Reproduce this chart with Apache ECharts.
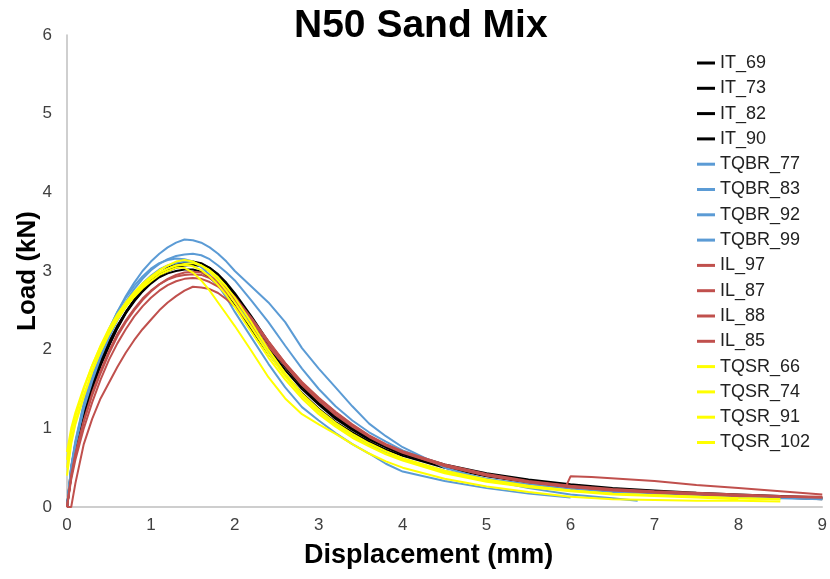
<!DOCTYPE html>
<html><head><meta charset="utf-8">
<script src="https://cdn.jsdelivr.net/npm/echarts@6/dist/echarts.min.js"></script>
<style>html,body{margin:0;background:#fff}#c{width:830px;height:579px}</style>
</head><body><div id="c"></div>
<script>
// shared displacement grid (mm)
const xGrid = [0,0.05,0.1,0.2,0.3,0.4,0.5,0.6,0.7,0.8,0.9,1.0,1.1,1.2,1.3,1.4,1.5,1.6,1.7,1.8,1.9,2.0,2.2,2.4,2.6,2.8,3.0,3.2,3.4,3.6,3.8,4.0,4.5,5.0,5.5,6.0,6.5,7.0,7.5,8.0,8.5,9.0];
const xBlue = [0,0.05,0.1,0.2,0.3,0.4,0.5,0.6,0.7,0.8,0.9,1.0,1.1,1.2,1.3,1.4,1.5,1.6,1.7,1.8,1.9,2.0,2.2,2.4,2.6,2.8,3.0,3.2,3.4,3.6,3.8,4.0,4.5,5.0,5.5,6.0,6.5,6.8,7.5,8.0,8.5,9.0];
const xIL97 = [0,0.05,0.1,0.2,0.3,0.4,0.5,0.6,0.7,0.8,0.9,1.0,1.1,1.2,1.3,1.4,1.5,1.6,1.7,1.8,1.9,2.0,2.2,2.4,2.6,2.8,3.0,3.2,3.4,3.6,3.8,4.0,4.5,5.0,5.5,5.95,6.0,6.25,7.0,7.5,8.0,8.5,9.0];

// loads (kN)
const IT_69 = [0,0.45,0.75,1.2,1.55,1.83,2.08,2.3,2.48,2.63,2.76,2.86,2.94,3.0,3.04,3.07,3.08,3.06,3.0,2.9,2.78,2.64,2.33,2.02,1.74,1.5,1.3,1.12,0.98,0.86,0.76,0.68,0.52,0.41,0.33,0.27,0.23,0.2,0.17,0.15,0.13,0.11];
const IT_73 = [0,0.4,0.7,1.15,1.5,1.8,2.05,2.28,2.47,2.63,2.77,2.88,2.97,3.04,3.09,3.11,3.12,3.1,3.04,2.95,2.83,2.69,2.38,2.07,1.78,1.53,1.32,1.15,1.0,0.88,0.78,0.7,0.54,0.43,0.35,0.29,0.24,0.21,0.18,0.16,0.14,0.12];
const IT_82 = [0,0.5,0.8,1.25,1.58,1.86,2.1,2.3,2.47,2.62,2.74,2.84,2.92,2.97,3.0,3.02,3.02,2.99,2.92,2.82,2.7,2.56,2.25,1.95,1.68,1.45,1.25,1.08,0.95,0.83,0.73,0.65,0.5,0.39,0.31,0.25,0.21,0.18,0.15,0.13,0.11,null];
const IT_90 = [0,0.42,0.72,1.18,1.52,1.8,2.05,2.27,2.46,2.61,2.74,2.85,2.94,3.01,3.06,3.09,3.1,3.09,3.04,2.96,2.85,2.72,2.42,2.1,1.8,1.54,1.32,1.14,0.99,0.86,0.76,0.67,0.51,0.4,0.32,0.26,0.22,0.19,0.16,0.14,0.12,0.1];

const TQBR_77 = [0,0.5,0.82,1.3,1.68,1.98,2.25,2.48,2.68,2.85,3.0,3.12,3.22,3.3,3.36,3.4,3.39,3.36,3.3,3.22,3.12,3.0,2.8,2.6,2.35,2.02,1.76,1.52,1.28,1.06,0.9,0.76,0.5,0.35,0.24,0.16,0.11,0.08,null,null,null,null];
const TQBR_83 = [0,0.48,0.8,1.27,1.63,1.93,2.19,2.42,2.61,2.77,2.9,3.01,3.09,3.15,3.19,3.21,3.22,3.2,3.15,3.07,2.98,2.88,2.62,2.35,2.05,1.76,1.5,1.28,1.1,0.95,0.83,0.72,0.53,0.41,0.32,0.26,0.21,0.18,0.16,0.14,0.12,0.11];
const TQBR_92 = [0,0.52,0.84,1.32,1.7,2.0,2.26,2.48,2.66,2.81,2.93,3.03,3.1,3.14,3.16,3.15,3.12,3.05,2.95,2.82,2.66,2.48,2.15,1.82,1.52,1.27,1.1,0.94,0.8,0.68,0.55,0.45,0.33,0.24,0.17,0.12,null,null,null,null,null,null];
const TQBR_99 = [0,0.46,0.78,1.25,1.6,1.9,2.15,2.37,2.55,2.71,2.84,2.94,3.02,3.07,3.1,3.12,3.11,3.07,3.0,2.9,2.77,2.62,2.3,1.98,1.68,1.43,1.22,1.05,0.91,0.79,0.69,0.61,0.46,0.36,0.29,0.23,0.19,0.16,0.14,0.12,0.11,0.1];

const IL_97 = [0,0.38,0.66,1.08,1.42,1.7,1.95,2.17,2.35,2.5,2.63,2.74,2.83,2.9,2.95,2.98,2.99,2.98,2.94,2.87,2.78,2.67,2.4,2.11,1.83,1.58,1.38,1.2,1.04,0.9,0.79,0.7,0.53,0.41,0.32,0.27,0.39,0.38,0.33,0.28,0.24,0.2,0.16];
const IL_87 = [0,0,0.3,0.8,1.12,1.38,1.58,1.78,1.96,2.12,2.26,2.38,2.5,2.6,2.68,2.75,2.8,2.79,2.77,2.72,2.64,2.55,2.3,2.04,1.8,1.57,1.38,1.2,1.04,0.9,0.79,0.7,0.52,0.4,0.32,0.26,0.22,0.19,0.17,0.15,0.13,0.12];
const IL_88 = [0,0.35,0.6,1.0,1.33,1.62,1.87,2.08,2.26,2.42,2.55,2.66,2.75,2.82,2.87,2.9,2.91,2.9,2.86,2.8,2.72,2.62,2.38,2.1,1.83,1.59,1.39,1.21,1.05,0.91,0.8,0.71,0.54,0.42,0.33,0.27,0.23,0.2,0.18,0.16,0.14,0.13];
const IL_85 = [0,0.4,0.68,1.1,1.45,1.73,1.98,2.2,2.37,2.52,2.65,2.75,2.83,2.89,2.93,2.95,2.96,2.95,2.91,2.84,2.75,2.64,2.37,2.08,1.8,1.55,1.35,1.17,1.02,0.89,0.78,0.69,0.52,0.4,0.31,0.25,0.21,0.18,0.16,0.14,0.13,0.12];

const TQSR_66 = [0.6,0.95,1.15,1.5,1.8,2.05,2.27,2.45,2.6,2.73,2.84,2.93,3.01,3.07,3.12,3.14,3.12,3.07,2.99,2.88,2.75,2.6,2.28,1.95,1.66,1.41,1.21,1.04,0.9,0.78,0.68,0.6,0.44,0.33,0.26,0.21,0.17,0.15,0.13,0.11,0.1,null];
const TQSR_74 = [0.5,0.85,1.08,1.42,1.72,1.98,2.2,2.38,2.54,2.67,2.78,2.87,2.95,3.0,3.04,3.04,2.98,2.88,2.75,2.6,2.45,2.3,1.98,1.65,1.38,1.18,1.05,0.93,0.8,0.68,0.58,0.5,0.36,0.26,0.19,0.13,0.1,0.09,0.08,0.08,0.07,null];
const TQSR_91 = [0.7,1.0,1.2,1.52,1.8,2.04,2.25,2.43,2.58,2.71,2.82,2.91,2.98,3.03,3.07,3.09,3.1,3.07,3.01,2.92,2.8,2.66,2.34,2.0,1.7,1.44,1.24,1.07,0.93,0.81,0.71,0.62,0.46,0.35,0.27,0.21,0.17,0.15,0.13,0.11,0.1,null];
const TQSR_102 = [0.4,0.8,1.05,1.4,1.72,1.98,2.2,2.39,2.55,2.68,2.8,2.9,2.98,3.03,3.07,3.08,3.06,3.01,2.93,2.82,2.69,2.54,2.22,1.9,1.62,1.38,1.18,1.02,0.88,0.77,0.67,0.59,0.43,0.32,0.25,0.2,0.16,0.14,0.12,0.1,null,null];

const BLACK = '#000000', BLUE = '#5B9BD5', RED = '#C0504D', YELLOW = '#FFFF00';
const seriesDefs = [
  ['IT_69', xGrid, IT_69, BLACK], ['IT_73', xGrid, IT_73, BLACK], ['IT_82', xGrid, IT_82, BLACK], ['IT_90', xGrid, IT_90, BLACK],
  ['TQBR_77', xBlue, TQBR_77, BLUE], ['TQBR_83', xBlue, TQBR_83, BLUE], ['TQBR_92', xBlue, TQBR_92, BLUE], ['TQBR_99', xBlue, TQBR_99, BLUE],
  ['IL_97', xIL97, IL_97, RED], ['IL_87', xGrid, IL_87, RED], ['IL_88', xGrid, IL_88, RED], ['IL_85', xGrid, IL_85, RED],
  ['TQSR_66', xGrid, TQSR_66, YELLOW], ['TQSR_74', xGrid, TQSR_74, YELLOW], ['TQSR_91', xGrid, TQSR_91, YELLOW], ['TQSR_102', xGrid, TQSR_102, YELLOW]
];

const FONT = '"Liberation Sans", Arial, sans-serif';
const chart = echarts.init(document.getElementById('c'), null, {renderer: 'canvas'});
chart.setOption({
  animation: false,
  backgroundColor: '#fff',
  textStyle: {fontFamily: FONT},
  title: {
    text: 'N50 Sand Mix', left: 294, top: 0, padding: [7, 0, 0, 0],
    textStyle: {fontSize: 39, fontWeight: 'bold', color: '#000', fontFamily: FONT}
  },
  grid: {left: 67, right: 7, top: 35, bottom: 72, containLabel: false},
  legend: {
    orient: 'vertical', left: 697, top: 54, padding: 0, itemWidth: 18, itemHeight: 3, icon: 'rect', itemGap: 7.3,
    textStyle: {fontSize: 18, color: '#222', lineHeight: 18, fontFamily: FONT},
    data: seriesDefs.map(s => s[0])
  },
  xAxis: {
    type: 'value', min: 0, max: 9, interval: 1,
    axisLine: {show: true, lineStyle: {color: '#BFBFBF', width: 1.5}},
    axisTick: {show: false}, splitLine: {show: false},
    axisLabel: {color: '#404040', fontSize: 17, margin: 10, fontFamily: FONT},
    name: 'Displacement (mm)', nameLocation: 'middle', nameGap: 35, nameMoveOverlap: false,
    nameTextStyle: {fontSize: 27, fontWeight: 'bold', color: '#000', fontFamily: FONT, padding: [0, 32, 0, 0]}
  },
  yAxis: {
    type: 'value', min: 0, max: 6, interval: 1,
    axisLine: {show: true, lineStyle: {color: '#BFBFBF', width: 1.5}},
    axisTick: {show: false}, splitLine: {show: false},
    axisLabel: {color: '#404040', fontSize: 17, margin: 15, fontFamily: FONT},
    name: 'Load (kN)', nameLocation: 'middle', nameGap: 26, nameMoveOverlap: false,
    nameTextStyle: {fontSize: 26, fontWeight: 'bold', color: '#000', fontFamily: FONT}
  },
  series: seriesDefs.map(([name, xs, ys, color]) => ({
    name, type: 'line', showSymbol: false, symbol: 'none', smooth: false,
    connectNulls: false, color,
    lineStyle: {color, width: 2},
    data: xs.map((x, i) => ys[i] == null ? null : [x, ys[i]]).filter(d => d !== null)
  }))
});
</script></body></html>
